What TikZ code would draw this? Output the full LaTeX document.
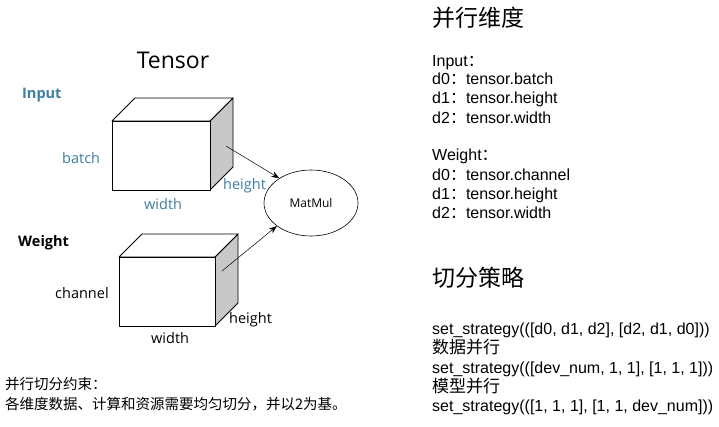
\documentclass[tikz,border=0pt]{standalone}
\usepackage{fontspec}
\setmainfont{Liberation Sans}
\newfontfamily\cjk{Noto Sans CJK SC}
\newfontfamily\uifont{Open Sans}
\usepackage{tikz}
\usetikzlibrary{shapes.geometric,arrows.meta}

\definecolor{labelblue}{RGB}{62,126,162}
\definecolor{sidegray}{RGB}{200,200,200}

\tikzset{
  edge/.style={line width=0.8pt, line join=round},
  dimlabel/.style={inner sep=0pt, anchor=west, font=\uifont\fontsize{14.5}{16}\selectfont},
  rtext/.style={inner sep=0pt, anchor=base west, font=\fontsize{16}{19}\selectfont},
  rhead/.style={inner sep=0pt, anchor=base west, font=\cjk\fontsize{23}{26}\selectfont},
  flow/.style={-{Stealth[length=8pt,width=6pt]}, line width=0.5pt},
}

\begin{document}
\begin{tikzpicture}[x=1pt,y=-1pt]
  \useasboundingbox[fill=white] (0,0) rectangle (719,426);

  % title
  \node[inner sep=0pt, font=\uifont\fontsize{23}{26}\selectfont] (title) at (173,60) {Tensor};

  % input tensor
  \draw[edge, fill=sidegray] (210,121) -- (233,98) -- (233,167) -- (210,190) -- cycle;
  \draw[edge, fill=white] (112,121) -- (135,98) -- (233,98) -- (210,121) -- cycle;
  \draw[edge, fill=white] (112,121) rectangle (210,190);
  \coordinate (inside) at (226,146);

  \node[dimlabel, labelblue, font=\uifont\bfseries\fontsize{14.5}{16}\selectfont] (input) at (22,95) {Input};
  \node[dimlabel, labelblue] (batch) at (62,158) {batch};
  \node[dimlabel, labelblue] (iheight) at (223,186) {height};
  \node[dimlabel, labelblue] (iwidth) at (144,204) {width};

  % weight tensor
  \draw[edge, fill=sidegray] (215,257) -- (238,234) -- (238,303) -- (215,326) -- cycle;
  \draw[edge, fill=white] (119,257) -- (142,234) -- (238,234) -- (215,257) -- cycle;
  \draw[edge, fill=white] (119,257) rectangle (215,326);
  \coordinate (wside) at (222,271);

  \node[dimlabel, font=\uifont\bfseries\fontsize{14.5}{16}\selectfont] (weight) at (18,243) {Weight};
  \node[dimlabel] (channel) at (55,293) {channel};
  \node[dimlabel] (wheight) at (229,320) {height};
  \node[dimlabel] (wwidth) at (151,338) {width};

  % operator
  \node[ellipse, draw, line width=0.6pt, minimum width=94pt, minimum height=66pt, inner sep=0pt,
        font=\uifont\fontsize{12}{14}\selectfont] (matmul) at (311,203) {MatMul};
  \draw[flow] (inside) -- (matmul.142);
  \draw[flow] (wside) -- (matmul.214);

  % constraint
  \node[inner sep=0pt, anchor=base west, font=\cjk\fontsize{14.5}{17}\selectfont] (rule1) at (5,389) {并行切分约束：};
  \node[inner sep=0pt, anchor=base west, font=\cjk\fontsize{14.5}{17}\selectfont] (rule2) at (5,409) {各维度数据、计算和资源需要均匀切分，并以2为基。};

  % parallel dimensions
  \node[rhead] (dimhead) at (432,26) {并行维度};
  \foreach \i/\y/\t in {1/66/{Input{\cjk：}},
                        2/84/{d0{\cjk：}tensor.batch},
                        3/103/{d1{\cjk：}tensor.height},
                        4/123/{d2{\cjk：}tensor.width},
                        5/160/{Weight{\cjk：}},
                        6/180/{d0{\cjk：}tensor.channel},
                        7/199/{d1{\cjk：}tensor.height},
                        8/218/{d2{\cjk：}tensor.width}}
    \node[rtext] (dim\i) at (432,\y) {\t};

  % strategies
  \node[rhead] (stratshead) at (432,286) {切分策略};
  \node[rtext] (strat1) at (432,334) {set\_strategy(([d0, d1, d2], [d2, d1, d0]))};
  \node[rtext, font=\cjk\fontsize{17}{19}\selectfont] (dp) at (432,353) {数据并行};
  \node[rtext] (strat2) at (432,373) {set\_strategy(([dev\_num, 1, 1], [1, 1, 1]))};
  \node[rtext, font=\cjk\fontsize{17}{19}\selectfont] (mp) at (432,392) {模型并行};
  \node[rtext] (strat3) at (432,411) {set\_strategy(([1, 1, 1], [1, 1, dev\_num]))};
\end{tikzpicture}
\end{document}
